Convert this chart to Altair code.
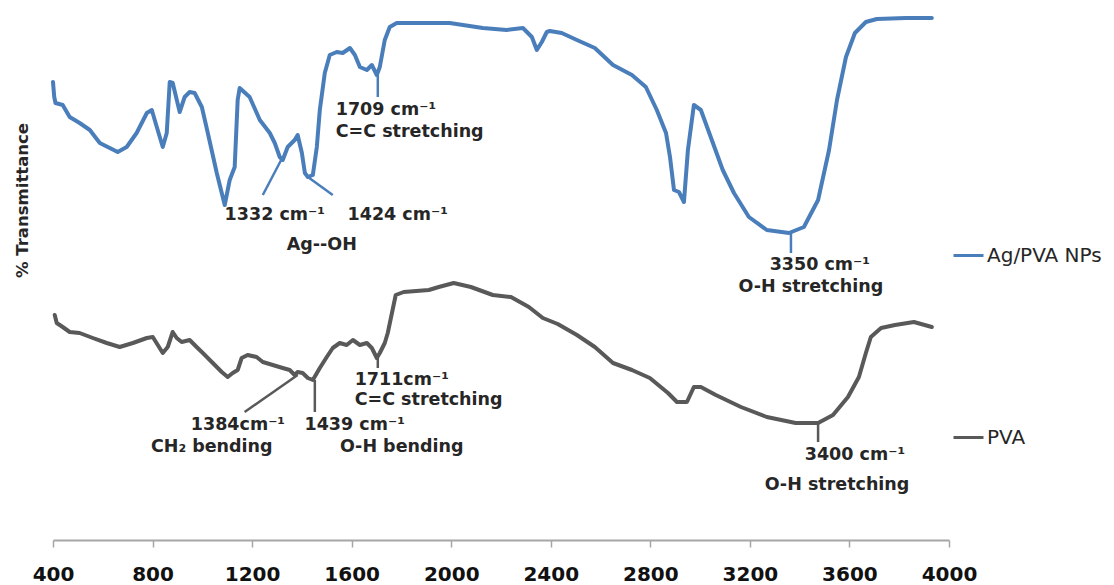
import altair as alt
import pandas as pd

# ---------------- data ----------------
series_names = ["Ag/PVA NPs", "PVA"]
series_colors = ["#4a7ebb", "#595959"]

# Ag/PVA NPs spectrum: wavenumber (cm-1) and transmittance (arbitrary units)
blue_wn = [400, 405, 410, 439, 467, 507, 548, 588, 628, 660, 696, 736, 777, 797, 817, 841, 857, 869,
           881, 909, 929, 949, 969, 998, 1022, 1058, 1090, 1110, 1130, 1142, 1150, 1190, 1231, 1271,
           1291, 1311, 1323, 1343, 1371, 1383, 1400, 1412, 1424, 1444, 1460, 1472, 1492, 1512, 1540,
           1564, 1593, 1613, 1633, 1661, 1681, 1701, 1713, 1733, 1753, 1781, 1862, 1994, 2127, 2223,
           2288, 2324, 2344, 2364, 2384, 2396, 2444, 2505, 2577, 2650, 2726, 2782, 2826, 2863, 2879,
           2895, 2915, 2935, 2951, 2975, 3003, 3047, 3091, 3136, 3196, 3268, 3357, 3417, 3474, 3518,
           3550, 3586, 3622, 3666, 3710, 3827, 3931]
blue_t = [458, 443, 437, 435, 423, 417, 410, 397, 392, 388, 393, 407, 427, 430, 413, 393, 407, 458,
          457, 428, 443, 448, 447, 433, 407, 367, 335, 360, 373, 440, 452, 443, 420, 407,
          397, 383, 380, 393, 400, 405, 387, 367, 363, 365, 393, 430, 467, 485, 488,
          487, 492, 485, 473, 470, 475, 465, 473, 500, 513, 517, 517, 517, 512, 510,
          512, 503, 490, 498, 508, 509, 507, 500, 492, 475, 465, 453, 430, 407, 383,
          350, 348, 338, 390, 435, 430, 400, 370, 347, 323, 310, 307, 313, 340, 390,
          440, 483, 507, 518, 521, 522, 522]

# PVA spectrum
gray_wn = [407, 415, 439, 467, 507, 560, 616, 668, 721, 777, 801, 821, 841, 861, 881, 897, 917, 949,
           977, 1002, 1042, 1078, 1102, 1122, 1142, 1158, 1182, 1218, 1243, 1283, 1323, 1351, 1371,
           1383, 1403, 1424, 1444, 1472, 1500, 1524, 1552, 1580, 1605, 1633, 1661, 1681, 1701, 1713,
           1733, 1745, 1777, 1809, 1910, 1950, 2010, 2079, 2167, 2240, 2312, 2368, 2428, 2505, 2577,
           2650, 2726, 2798, 2871, 2907, 2947, 2975, 3003, 3063, 3164, 3268, 3384, 3474, 3534, 3594,
           3638, 3666, 3686, 3727, 3783, 3859, 3931]
gray_t = [225, 217, 213, 208, 207, 202, 197, 193, 197, 202, 203, 195, 187, 193, 208, 202, 198, 200,
          193, 187, 177, 168, 163, 167, 170, 182, 185, 183, 178, 175, 172, 170, 165,
          168, 167, 162, 160, 172, 183, 192, 197, 195, 200, 195, 197, 192, 182, 187,
          197, 207, 245, 248, 250, 253, 257, 253, 245, 243, 233, 222, 216, 205, 193,
          177, 170, 162, 147, 138, 138, 153, 153, 145, 133, 123, 117, 117, 125, 143,
          163, 187, 203, 212, 215, 218, 213]

# leader lines of the peak annotations
lead_series = ["Ag/PVA NPs", "Ag/PVA NPs", "Ag/PVA NPs", "Ag/PVA NPs", "PVA", "PVA", "PVA", "PVA"]
lead_x1 = [1323, 1424, 1705, 3365, 1383, 1452, 1705, 3474]
lead_t1 = [383, 363, 465, 307, 165, 160, 182, 117]
lead_x2 = [1243, 1524, 1705, 3365, 1170, 1452, 1705, 3474]
lead_t2 = [345, 345, 443, 287, 128, 128, 172, 98]

# annotation texts (centred)
lab_c_text = ["1332 cm\u207b\u00b9", "1424 cm\u207b\u00b9", "Ag--OH", "3350 cm\u207b\u00b9", "O-H stretching",
              "1384cm\u207b\u00b9", "1439 cm\u207b\u00b9", "CH\u2082 bending", "O-H bending",
              "3400 cm\u207b\u00b9", "O-H stretching"]
lab_c_x = [1291, 1785, 1480, 3481, 3445, 1143, 1612, 1038, 1801, 3622, 3550]
lab_c_t = [325, 325, 295, 275, 253, 115, 115, 93, 93, 85, 55]

# annotation texts (left aligned)
lab_l_text = ["1709 cm\u207b\u00b9", "C=C stretching", "1711cm\u207b\u00b9", "C=C stretching"]
lab_l_x = [1536, 1536, 1612, 1612]
lab_l_t = [430, 408, 160, 140]

x_ticks = [400, 800, 1200, 1600, 2000, 2400, 2800, 3200, 3600, 4000]

# ---------------- tables ----------------
spec_df = pd.concat([
    pd.DataFrame({"wn": blue_wn, "t": blue_t, "series": series_names[0]}),
    pd.DataFrame({"wn": gray_wn, "t": gray_t, "series": series_names[1]}),
], ignore_index=True)
lead_df = pd.DataFrame({"series": lead_series, "x1": lead_x1, "t1": lead_t1, "x2": lead_x2, "t2": lead_t2})
labc_df = pd.DataFrame({"text": lab_c_text, "x": lab_c_x, "t": lab_c_t})
labl_df = pd.DataFrame({"text": lab_l_text, "x": lab_l_x, "t": lab_l_t})

FONT = "DejaVu Sans"
TXT = "#262626"
ANN_SIZE = 17.5

x_scale = alt.Scale(domain=[400, 4000], nice=False, zero=False)
y_scale = alt.Scale(domain=[0, 530], nice=False, zero=False)
color_scale = alt.Scale(domain=series_names, range=series_colors)

x_axis = alt.Axis(values=x_ticks, format="d", title=None, grid=False,
                  domainColor="#a6a6a6", domainWidth=2, tickColor="#a6a6a6", tickWidth=1.5,
                  tickSize=7, labelFont=FONT, labelFontWeight="bold", labelFontSize=20,
                  labelColor="#111111", labelPadding=17, labelFlush=False, labelOverlap=False)
y_axis = alt.Axis(title="% Transmittance", domain=False, ticks=False, labels=False, grid=False,
                  titleFont=FONT, titleFontSize=16.5, titleFontWeight="bold", titleColor=TXT,
                  titleX=-31, titleY=190, titleAngle=270, titleBaseline="middle", titleAlign="center")

lines = alt.Chart(spec_df).mark_line(strokeWidth=4, strokeJoin="round", strokeCap="round").encode(
    x=alt.X("wn:Q", scale=x_scale, axis=x_axis),
    y=alt.Y("t:Q", scale=y_scale, axis=y_axis),
    color=alt.Color("series:N", scale=color_scale,
                    legend=alt.Legend(title=None, orient="none", legendX=899, legendY=229,
                                      symbolType="stroke", symbolSize=900, symbolStrokeWidth=3,
                                      labelFont=FONT, labelFontSize=20, labelColor=TXT,
                                      rowPadding=155, labelOffset=2, padding=0)),
    detail="series:N",
)

leaders = alt.Chart(lead_df).mark_rule(strokeWidth=2.5).encode(
    x=alt.X("x1:Q", scale=x_scale, axis=x_axis),
    y=alt.Y("t1:Q", scale=y_scale, axis=y_axis),
    x2="x2:Q",
    y2="t2:Q",
    color=alt.Color("series:N", scale=color_scale, legend=None),
)

labels_c = alt.Chart(labc_df).mark_text(font=FONT, fontWeight="bold", fontSize=ANN_SIZE, color=TXT,
                                        align="center", baseline="middle").encode(
    x=alt.X("x:Q", scale=x_scale, axis=x_axis),
    y=alt.Y("t:Q", scale=y_scale, axis=y_axis),
    text="text:N",
)

labels_l = alt.Chart(labl_df).mark_text(font=FONT, fontWeight="bold", fontSize=ANN_SIZE, color=TXT,
                                        align="left", baseline="middle").encode(
    x=alt.X("x:Q", scale=x_scale, axis=x_axis),
    y=alt.Y("t:Q", scale=y_scale, axis=y_axis),
    text="text:N",
)

chart = alt.layer(lines, leaders, labels_c, labels_l).properties(
    width=896, height=530,
    autosize=alt.AutoSizeParams(type="none"),
    padding={"left": 45, "top": 2, "right": 157, "bottom": 45},
    background="white",
).configure_view(strokeWidth=0)

chart.save("out.html", embed_options={"renderer": "svg", "actions": False})
